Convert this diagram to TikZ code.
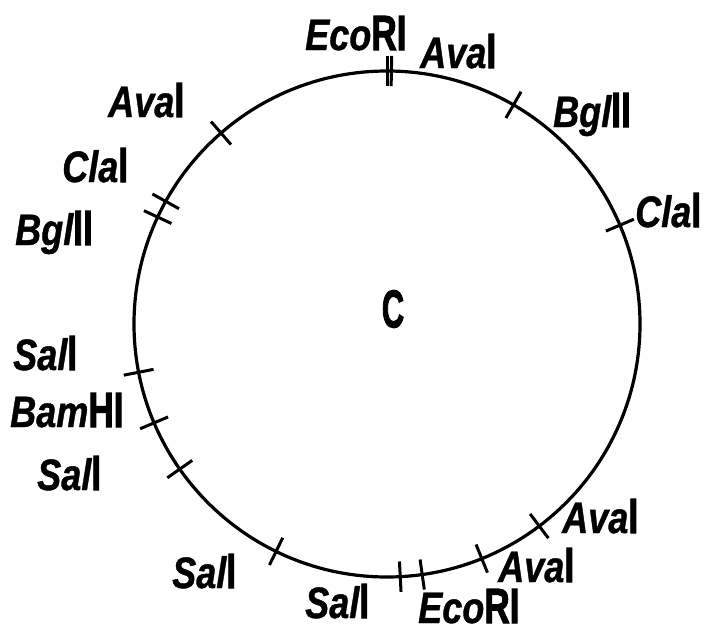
\documentclass[tikz,border=0pt]{standalone}
\usepackage{fontspec}
\setmainfont{Liberation Sans}
\newfontfamily\numfont[FakeBold=2.5]{Liberation Sans Bold}
\newfontfamily\namefont[FakeBold=1]{Liberation Sans Bold Italic}
\usetikzlibrary{calc}
\newcommand\rsite[2]{\scalebox{0.82}[1]{\namefont #1}\scalebox{0.8}[1.12]{\numfont #2}}
\begin{document}
\begin{tikzpicture}[x=1pt,y=-1pt,
  lbl/.style={font=\fontsize{44}{44}\selectfont, inner sep=0pt, text depth=0pt, anchor=base west},
  cut/.style={line width=3pt},
]
\useasboundingbox (0,0) rectangle (713,632);
\coordinate (O) at (387,324);
\node[circle, draw, line width=3.2pt, minimum size=506pt, inner sep=0pt, outer sep=0pt] (ring) at (O) {};
\foreach \a in {90.7,89.3,60,23,-53,-68,-82,-87.5,-116.7,-145.2,-157.2,-169.1,151.5,155,131.5}{
  \draw[cut] ($(O)!0.94!(ring.\a)$) -- ($(O)!1.06!(ring.\a)$);
}
\node[lbl] (e1) at (305,50) {\rsite{Eco}{RI}};
\node[lbl] (a1) at (420,68) {\rsite{Ava}{I}};
\node[lbl] (b1) at (553,127) {\rsite{Bgl}{II}};
\node[lbl] (c1) at (635,227) {\rsite{Cla}{I}};
\node[lbl] (a2) at (562,533) {\rsite{Ava}{I}};
\node[lbl] (a3) at (498,582) {\rsite{Ava}{I}};
\node[lbl] (e2) at (418,623) {\rsite{Eco}{RI}};
\node[lbl] (s1) at (305,618) {\rsite{Sal}{I}};
\node[lbl] (s2) at (172,588) {\rsite{Sal}{I}};
\node[lbl] (s3) at (37,490) {\rsite{Sal}{I}};
\node[lbl] (bh) at (10,427) {\rsite{Bam}{HI}};
\node[lbl] (s4) at (13,370) {\rsite{Sal}{I}};
\node[lbl] (b2) at (15,245) {\rsite{Bgl}{II}};
\node[lbl] (c2) at (62,182) {\rsite{Cla}{I}};
\node[lbl] (a4) at (108,117) {\rsite{Ava}{I}};
\node[inner sep=0pt, font=\fontsize{53}{53}\numfont] (cc) at (393,309) {\scalebox{0.58}[1]{C}};
\end{tikzpicture}
\end{document}
